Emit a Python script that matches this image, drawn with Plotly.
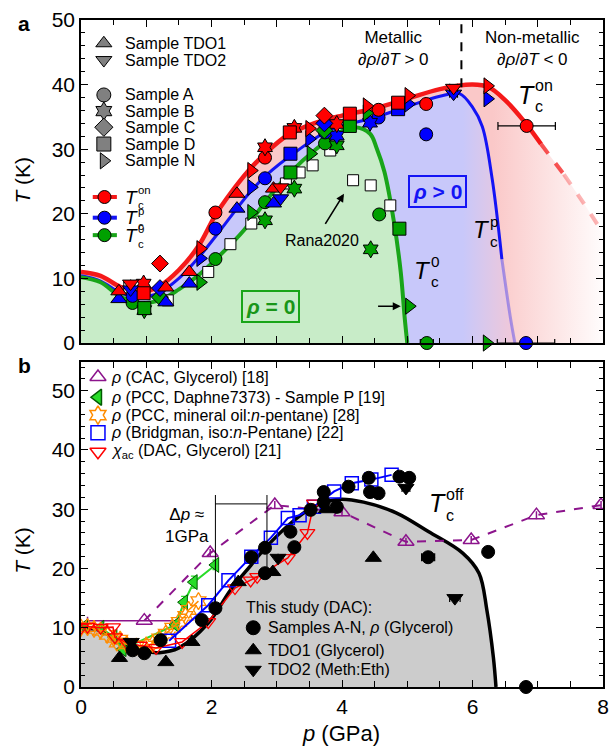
import plotly.graph_objects as go

FONT = "Liberation Sans, Arial, sans-serif"
RED, BLUE, GREEN = "rgb(255,0,0)", "rgb(0,0,255)", "rgb(0,160,0)"
LRED, LBLUE, LGREEN = "rgb(245,25,25)", "rgb(20,20,245)", "rgb(25,165,25)"
GRAY = "rgb(128,128,128)"

# ---------------- Panel a: phase boundaries ----------------
on_p = [0, 0.3, 0.6, 0.9, 1.2, 1.5, 1.8, 2.06, 2.3, 2.56, 2.82, 3.17, 3.57, 4.0, 4.5, 5.0, 5.5, 6.0, 6.25, 6.5, 6.8, 7.05]
on_T = [11.0, 10.4, 8.7, 7.9, 8.8, 11.3, 15.0, 19.8, 23.3, 26.6, 29.3, 32.2, 34.0, 35.2, 36.3, 37.8, 39.3, 40.0, 39.6, 37.6, 34.2, 30.8]
on_dash_p = [7.05, 7.4, 7.7, 8.0]
on_dash_T = [30.8, 26.1, 21.7, 17.0]
pk_p = [0, 0.3, 0.6, 0.9, 1.2, 1.5, 1.8, 2.1, 2.56, 2.82, 3.32, 3.82, 4.5, 5.0, 5.5, 5.8, 6.0, 6.15, 6.3, 6.45, 6.58, 6.65]
pk_T = [10.4, 9.6, 7.8, 7.1, 7.8, 10.0, 13.2, 17.0, 23.0, 25.8, 29.8, 33.0, 34.9, 36.6, 38.2, 38.6, 36.5, 33.5, 25.5, 13.0, 4.0, 0.0]
z_p = [0, 0.3, 0.6, 0.9, 1.2, 1.5, 1.8, 2.1, 2.5, 2.82, 3.2, 3.6, 4.0, 4.2, 4.43, 4.53, 4.65, 4.8, 4.9, 4.96, 5.0]
z_T = [10.2, 9.4, 7.2, 6.2, 6.6, 8.3, 10.5, 13.3, 17.5, 21.8, 26.3, 30.0, 32.8, 33.4, 32.4, 30.2, 26.5, 18.5, 11.0, 4.0, 0.0]

# ---------------- Panel a: samples (p, T, xerr) ----------------
rana = [(0.74, 8.6), (1.33, 6.6), (1.95, 11.0), (2.29, 15.3), (2.61, 18.5), (3.14, 24.7), (3.35, 26.4),
        (3.55, 27.5), (3.82, 29.8), (4.17, 25.2), (4.44, 24.4), (4.74, 21.3)]
A_on = [(2.06, 20.2), (2.82, 28.7), (4.56, 36.1), (5.29, 37.0, 0.08), (6.83, 33.6, 0.44)]
A_pk = [(0.79, 7.3), (2.06, 17.7), (2.82, 25.5), (3.74, 32.6), (4.56, 34.9), (5.29, 32.3, 0.08), (6.82, 0.0, 0.44)]
A_z = [(0.79, 6.2), (2.06, 13.0), (2.82, 21.8), (3.74, 30.9), (4.57, 19.9), (5.3, 0.0, 0.1)]
B_on = [(0.96, 9.2), (2.82, 30.3), (3.27, 33.3), (3.92, 33.9)]
B_pk = [(3.92, 32.1), (4.43, 34.1)]
B_z = [(0.97, 5.1), (2.82, 19.0), (3.27, 23.9), (3.92, 30.6), (4.44, 14.5)]
C_on = [(1.21, 12.3), (3.73, 35.2)]
C_pk = [(1.21, 8.5), (3.73, 34.0)]
C_z = [(1.21, 7.1), (3.73, 32.9)]
D_on = [(0.96, 7.7), (3.2, 32.6), (4.12, 35.5), (4.86, 37.2)]
D_pk = [(3.21, 29.3), (4.86, 36.2)]
D_z = [(0.97, 5.4), (3.21, 26.4), (4.12, 33.6), (4.88, 17.7)]
N_on = [(1.83, 14.6), (2.61, 26.7), (3.5, 33.2), (4.38, 36.7), (5.02, 38.3), (6.23, 39.8)]
N_pk = [(1.83, 13.1), (2.61, 24.1), (3.5, 31.6), (5.02, 37.0), (6.23, 37.8)]
N_z = [(1.83, 9.4), (2.61, 20.2), (3.52, 29.3), (4.38, 35.6), (5.03, 5.7), (6.22, 0.0)]
T1_on = [(0.58, 8.0), (1.30, 8.6), (1.66, 11.0), (2.39, 23.1), (2.95, 23.9)]
T1_pk = [(0.58, 6.8), (1.30, 6.3), (1.66, 9.2), (2.39, 20.8), (2.95, 21.6)]
T2_on = [(0.76, 9.2), (3.06, 24.1), (5.71, 39.5, 0.06)]
T2_pk = [(0.76, 8.3), (3.06, 22.4), (5.71, 38.6, 0.06)]

# ---------------- Panel b ----------------
off_p = [0, 0.3, 0.6, 0.9, 1.2, 1.5, 1.95, 2.3, 2.6, 2.82, 3.2, 3.5, 3.8, 4.0, 4.33, 4.83, 5.33, 5.85, 6.1, 6.22, 6.32, 6.36]
off_T = [10.0, 9.5, 7.5, 6.2, 5.8, 6.6, 10.8, 16.5, 20.5, 23.4, 27.5, 30.0, 31.4, 31.7, 31.2, 29.4, 26.2, 22.6, 19.2, 13.0, 5.0, 0.0]
cac_p = [0.97, 1.98, 2.97, 4.0, 4.98, 5.98, 6.98, 7.97]
cac_T = [11.2, 22.6, 30.7, 29.5, 24.5, 24.8, 29.0, 30.7]
daph_p = [0.05, 0.3, 0.5, 0.64, 1.45, 1.58, 1.73, 2.06]
daph_T = [10.2, 10.0, 8.5, 6.4, 10.5, 14.3, 17.7, 20.6]
daph_err = [0, 0, 0, 0, 0.6, 1.0, 1.0, 0.8]
oil_p = [0.0, 0.1, 0.2, 0.3, 0.4, 0.5, 0.55, 0.6, 0.7, 0.85, 1.0, 1.1, 1.2, 1.3, 1.4, 1.5, 1.6, 1.65, 1.8]
oil_T = [10.0, 10.1, 9.8, 9.5, 8.8, 8.3, 7.5, 8.0, 7.2, 6.8, 7.0, 7.3, 8.2, 9.0, 10.0, 11.0, 12.0, 13.0, 14.5]
brg_p = [1.35, 1.95, 2.26, 2.61, 2.91, 3.17, 3.35, 3.57, 3.88, 4.15, 4.45, 4.76]
brg_T = [7.8, 13.8, 18.0, 22.0, 25.2, 28.5, 29.0, 30.4, 33.0, 34.4, 35.0, 35.8]
chi_p = [0.0, 0.1, 0.3, 0.49, 0.52, 0.7, 0.9, 1.15, 1.55, 1.95, 2.36, 2.6, 2.7, 3.17, 3.47, 3.57]
chi_T = [10.0, 10.2, 10.0, 10.1, 8.4, 7.5, 7.0, 6.6, 7.6, 11.0, 16.7, 18.0, 18.6, 21.8, 26.0, 31.0]
b_circ = [(0.79, 6.2), (0.97, 5.7), (1.22, 7.9), (1.85, 11.3), (2.06, 13.3), (2.61, 21.9), (2.82, 23.5),
          (2.82, 19.2), (3.21, 26.2), (3.27, 23.6), (3.52, 29.9), (3.72, 32.9), (3.72, 31.2), (3.92, 30.4),
          (4.1, 33.8), (4.41, 35.3), (4.43, 32.9), (4.56, 32.7), (4.88, 35.5), (5.03, 35.3), (5.32, 21.9, 0.1),
          (6.24, 22.8), (6.82, 0.0)]
b_tdo1 = [(0.59, 4.9), (1.30, 4.2), (1.7, 7.6), (2.41, 17.7), (2.94, 19.4), (3.76, 30.0), (4.48, 21.8)]
b_tdo2 = [(0.77, 7.6), (3.02, 21.8), (4.98, 33.6, 0.06), (5.73, 15.0, 0.08)]

fig = go.Figure()
ann = []


def txt(x, y, text, size, xref="x", yref="y", xanchor="left", **kw):
    d = dict(x=x, y=y, xref=xref, yref=yref, text=text, showarrow=False, xanchor=xanchor, yanchor="middle",
             font=dict(size=size, family=FONT, color=kw.pop("color", "black")))
    d.update(kw)
    ann.append(d)


def pts(data, symbol, color, xa, ya, size=12, lc="black", lw=1):
    x = [d[0] for d in data]
    y = [d[1] for d in data]
    ex = [d[2] if len(d) > 2 else 0 for d in data]
    fig.add_trace(go.Scatter(
        x=x, y=y, mode="markers", xaxis=xa, yaxis=ya,
        marker=dict(symbol=symbol, color=color, size=size, line=dict(color=lc, width=lw)),
        error_x=dict(type="data", array=ex, color="black", thickness=1.2, width=4, visible=any(ex)),
        showlegend=False, hoverinfo="skip", cliponaxis=False))


def line(x, y, color, width, xa, ya, dash="solid", shape="spline"):
    fig.add_trace(go.Scatter(x=x, y=y, mode="lines", line=dict(color=color, width=width, dash=dash, shape=shape),
                             xaxis=xa, yaxis=ya, showlegend=False, hoverinfo="skip"))


def tc(x, y, sup, xref, yref, size, color="black", sub_scale=0.64):
    txt(x, y, "<i>T</i>", size, xref, yref, color=color)
    txt(x, y, f"{sup}<br>c", size * sub_scale, xref, yref, color=color, align="left",
        xshift=size * 0.7, yshift=-size * 0.05)


# ---- panel a fills ----
PINK, LAV, LGR = "rgb(250,200,200)", "rgb(200,200,250)", "rgb(200,236,200)"
fig.add_trace(go.Scatter(x=on_p + on_dash_p[1:], y=on_T + on_dash_T[1:], mode="lines", fill="tozeroy",
                         line=dict(width=0, shape="spline"),
                         fillgradient=dict(type="horizontal", start=0, stop=8,
                                           colorscale=[[0, PINK], [0.78, PINK], [1, "rgb(255,255,255)"]]),
                         xaxis="x", yaxis="y", showlegend=False, hoverinfo="skip"))
fig.add_trace(go.Scatter(x=pk_p, y=pk_T, mode="lines", fill="tozeroy", line=dict(width=0, shape="spline"),
                         fillgradient=dict(type="horizontal", start=0, stop=6.65,
                                           colorscale=[[0, LAV], [0.87, LAV], [1, "rgb(246,200,212)"]]),
                         xaxis="x", yaxis="y", showlegend=False, hoverinfo="skip"))
fig.add_trace(go.Scatter(x=z_p, y=z_T, mode="lines", fill="tozeroy", fillcolor=LGR,
                         line=dict(width=0, shape="spline"), xaxis="x", yaxis="y",
                         showlegend=False, hoverinfo="skip"))

# ---- panel a lines ----
line(on_p, on_T, LRED, 4.5, "x", "y")
line(on_dash_p[:2], on_dash_T[:2], "rgba(245,40,40,0.8)", 4, "x", "y", dash="dash")
line(on_dash_p[1:], on_dash_T[1:], "rgba(245,40,40,0.35)", 4, "x", "y", dash="dash")
line(pk_p[:-2], pk_T[:-2], LBLUE, 3, "x", "y")
line(pk_p[-3:], pk_T[-3:], "rgba(20,20,245,0.35)", 3, "x", "y")
line(z_p, z_T, LGREEN, 4, "x", "y")
line([5.83, 5.83], [39.6, 50], "black", 2, "x", "y", dash="dash", shape="linear")

# ---- panel a markers ----
pts(rana, "square", "white", "x", "y", size=11)
for sym, z, pk, on, sz in [("circle", A_z, A_pk, A_on, 13), ("hexagram", B_z, B_pk, B_on, 13),
                           ("diamond", C_z, C_pk, C_on, 13), ("square", D_z, D_pk, D_on, 13),
                           ("triangle-right", N_z, N_pk, N_on, 14)]:
    pts(z, sym, GREEN, "x", "y", size=sz)
    pts(pk, sym, BLUE, "x", "y", size=sz)
    pts(on, sym, RED, "x", "y", size=sz)
pts(T1_pk, "triangle-up", BLUE, "x", "y", size=14)
pts(T1_on, "triangle-up", RED, "x", "y", size=14)
pts(T2_pk, "triangle-down", BLUE, "x", "y", size=14)
pts(T2_on, "triangle-down", RED, "x", "y", size=14)

# ---- panel a legend ----
leg_a_sym = ["triangle-up", "triangle-down", "circle", "hexagram", "diamond", "square", "triangle-right"]
leg_a_txt = ["Sample TDO1", "Sample TDO2", "Sample A", "Sample B", "Sample C", "Sample D", "Sample N"]
leg_a_T = [46.4, 43.8, 38.4, 35.9, 33.4, 30.8, 28.2]
for s, t, yy in zip(leg_a_sym, leg_a_txt, leg_a_T):
    pts([(0.35, yy)], s, GRAY, "x", "y", size=14)
    txt(0.65, yy, t, 16)

for col, mcol, yy, sup in [(LRED, RED, 22.6, "on"), (LBLUE, BLUE, 19.4, "p"), (LGREEN, GREEN, 16.7, "0")]:
    line([0.18, 0.55], [yy, yy], col, 4, "x", "y", shape="linear")
    pts([(0.36, yy)], "circle", mcol, "x", "y", size=13)
    tc(0.64, yy, sup, "x", "y", 19, sub_scale=0.6)

tc(6.66, 38.4, "on", "x", "y", 25)
tc(5.98, 17.5, "p", "x", "y", 24)
tc(5.08, 11.3, "0", "x", "y", 24)

txt(4.79, 45.6, "Metallic<br>∂<i>ρ</i>/∂<i>T</i> > 0", 17, xanchor="center")
txt(6.92, 45.6, "Non-metallic<br>∂<i>ρ</i>/∂<i>T</i> < 0", 17, xanchor="center")
txt(5.46, 23.5, "<b><i>ρ</i> > 0</b>", 21, xanchor="center", color="rgb(20,20,245)",
    bordercolor="rgb(20,20,245)", borderwidth=2, borderpad=3)
txt(2.9, 5.65, "<b><i>ρ</i> = 0</b>", 21, xanchor="center", color="rgb(25,150,25)",
    bordercolor="rgb(25,165,25)", borderwidth=2, borderpad=3)
txt(3.7, 15.9, "Rana2020", 16, xanchor="center")
ann.append(dict(x=4.03, y=23.1, ax=3.73, ay=18.2, xref="x", yref="y", axref="x", ayref="y", text="",
                showarrow=True, arrowhead=2, arrowsize=1, arrowwidth=1.6, arrowcolor="black"))
ann.append(dict(x=4.9, y=5.7, ax=4.53, ay=5.7, xref="x", yref="y", axref="x", ayref="y", text="",
                showarrow=True, arrowhead=2, arrowsize=1, arrowwidth=1.6, arrowcolor="black"))
txt(-0.125, 0.995, "<b>a</b>", 21, "paper", "paper")
txt(-0.125, 0.482, "<b>b</b>", 21, "paper", "paper")
txt(-0.112, 0.76, "<i>T</i> (K)", 21, "paper", "paper", xanchor="center", textangle=-90)
txt(-0.112, 0.205, "<i>T</i> (K)", 21, "paper", "paper", xanchor="center", textangle=-90)
txt(0.498, -0.069, "<i>p</i> (GPa)", 22, "paper", "paper", xanchor="center")

# ---- panel b ----
fig.add_trace(go.Scatter(x=off_p, y=off_T, mode="lines", fill="tozeroy", fillcolor="rgb(204,204,204)",
                         line=dict(color="black", width=3.5, shape="spline"), xaxis="x2", yaxis="y2",
                         showlegend=False, hoverinfo="skip"))
PURPLE, LIME, ORANGE = "rgb(140,20,140)", "rgb(40,220,40)", "rgb(255,140,0)"
fig.add_trace(go.Scatter(x=cac_p, y=cac_T, mode="lines+markers", xaxis="x2", yaxis="y2",
                         line=dict(color=PURPLE, width=2, dash="dash"),
                         marker=dict(symbol="triangle-up-open", size=14, color=PURPLE, line=dict(width=1.5)),
                         error_x=dict(type="data", symmetric=False, array=[0.53] + [0] * 7,
                                      arrayminus=[0.87] + [0] * 7, color=PURPLE, thickness=1.5, width=4),
                         showlegend=False, hoverinfo="skip"))
fig.add_trace(go.Scatter(x=daph_p, y=daph_T, mode="lines+markers", xaxis="x2", yaxis="y2",
                         line=dict(color=LIME, width=2),
                         marker=dict(symbol="triangle-left", size=13, color=LIME, line=dict(color="rgb(0,90,0)", width=1)),
                         error_y=dict(type="data", array=daph_err, color=LIME, thickness=1.2, width=3),
                         showlegend=False, hoverinfo="skip"))
fig.add_trace(go.Scatter(x=oil_p, y=oil_T, mode="lines+markers", xaxis="x2", yaxis="y2",
                         line=dict(color=ORANGE, width=1.5),
                         marker=dict(symbol="hexagram-open", size=13, color=ORANGE, line=dict(width=1.3)),
                         showlegend=False, hoverinfo="skip"))
fig.add_trace(go.Scatter(x=brg_p, y=brg_T, mode="lines+markers", xaxis="x2", yaxis="y2",
                         line=dict(color=BLUE, width=2),
                         marker=dict(symbol="square-open", size=13, color=BLUE, line=dict(width=1.5)),
                         showlegend=False, hoverinfo="skip"))
fig.add_trace(go.Scatter(x=chi_p, y=chi_T, mode="lines+markers", xaxis="x2", yaxis="y2",
                         line=dict(color=RED, width=1.5),
                         marker=dict(symbol="triangle-down-open", size=13, color=RED, line=dict(width=1.3)),
                         showlegend=False, hoverinfo="skip"))
pts(b_circ, "circle", "black", "x2", "y2", size=13)
pts(b_tdo1, "triangle-up", "black", "x2", "y2", size=14)
pts(b_tdo2, "triangle-down", "black", "x2", "y2", size=14)

# panel b legend
leg_b_sym = ["triangle-up-open", "triangle-left", "hexagram-open", "square-open", "triangle-down-open"]
leg_b_col = [PURPLE, LIME, ORANGE, BLUE, RED]
leg_b_txt = ["<i>ρ</i> (CAC, Glycerol) [18]", "<i>ρ</i> (PCC, Daphne7373) - Sample P [19]",
             "<i>ρ</i> (PCC, mineral oil:<i>n</i>-pentane) [28]", "<i>ρ</i> (Bridgman, iso:<i>n</i>-Pentane) [22]",
             "<i>χ</i><sub>ac</sub> (DAC, Glycerol) [21]"]
leg_b_T = [52.3, 48.9, 45.9, 42.9, 39.7]
for s, c, t, yy in zip(leg_b_sym, leg_b_col, leg_b_txt, leg_b_T):
    lc = "rgb(0,90,0)" if s == "triangle-left" else c
    pts([(0.26, yy)], s, c, "x2", "y2", size=14, lc=lc, lw=1.5)
    txt(0.43, yy, t, 16, "x2", "y2")

study_sym = ["circle", "triangle-up", "triangle-down"]
study_txt = ["Samples A-N, <i>ρ</i> (Glycerol)", "TDO1 (Glycerol)", "TDO2 (Meth:Eth)"]
study_T = [10.0, 6.2, 2.9]
txt(2.5, 13.5, "This study (DAC):", 16, "x2", "y2")
for s, t, yy in zip(study_sym, study_txt, study_T):
    pts([(2.64, yy)], s, "black", "x2", "y2", size=14)
    txt(2.84, yy, t, 16, "x2", "y2")

txt(1.62, 27.2, "Δ<i>p</i> ≈<br>1GPa", 17, "x2", "y2", xanchor="center")
tc(5.3, 31.0, "off", "x2", "y2", 25)

shapes = [
    dict(type="line", xref="x2", yref="y2", x0=2.06, x1=2.06, y0=12.5, y1=32.4, line=dict(color="black", width=1)),
    dict(type="line", xref="x2", yref="y2", x0=2.85, x1=2.85, y0=19.7, y1=32.4, line=dict(color="black", width=1)),
    dict(type="line", xref="x2", yref="y2", x0=2.06, x1=2.85, y0=30.9, y1=30.9, line=dict(color="black", width=1)),
]

axis_common = dict(showline=True, linecolor="black", linewidth=1.5, mirror="allticks", ticks="inside",
                   ticklen=7, tickwidth=1.2, tickcolor="black", showgrid=False, zeroline=False,
                   tickfont=dict(size=21, family=FONT, color="black"))

fig.update_layout(
    width=616, height=747, margin=dict(l=81, r=7, t=20, b=60),
    paper_bgcolor="white", plot_bgcolor="white", showlegend=False,
    font=dict(family=FONT, color="black"),
    xaxis=dict(domain=[0, 1], anchor="y", range=[0, 8], dtick=1, showticklabels=False,
               minor=dict(dtick=0.5, ticks="inside", ticklen=5, tickcolor="black"), **axis_common),
    yaxis=dict(domain=[0.5157, 1], anchor="x", range=[0, 50], dtick=10,
               minor=dict(dtick=2, ticks="inside", ticklen=4, tickcolor="black"), **axis_common),
    xaxis2=dict(domain=[0, 1], anchor="y2", range=[0, 8], dtick=2,
                minor=dict(dtick=0.5, ticks="inside", ticklen=6, tickcolor="black"), **axis_common),
    yaxis2=dict(domain=[0, 0.4873], anchor="x2", range=[0, 54.85], dtick=10,
                minor=dict(dtick=2, ticks="inside", ticklen=4, tickcolor="black"), **axis_common),
    annotations=ann, shapes=shapes,
)

fig.write_html("out.html")
